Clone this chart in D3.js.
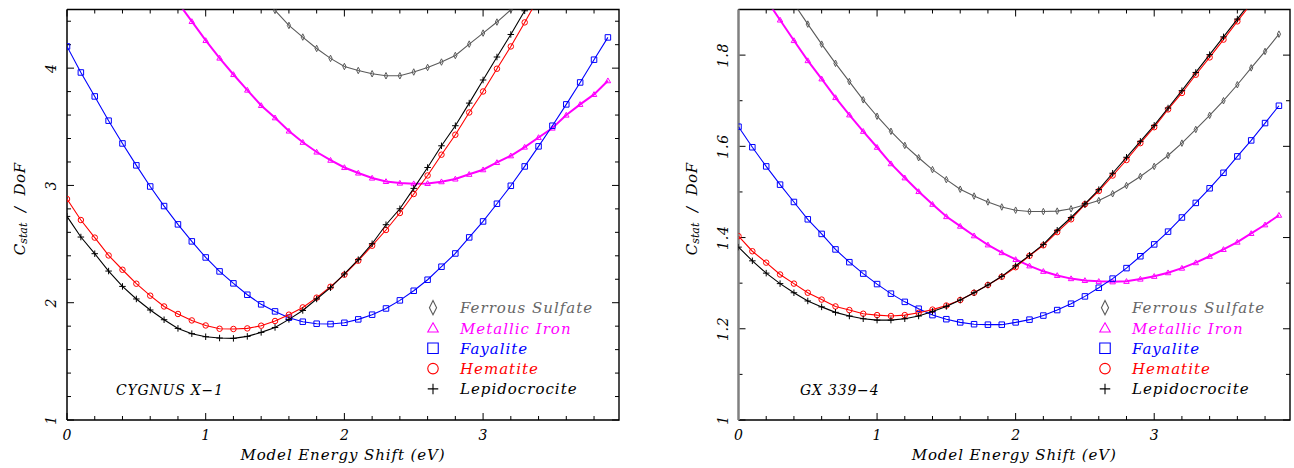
<!DOCTYPE html>
<html>
<head>
<meta charset="utf-8">
<script src="https://cdn.jsdelivr.net/npm/d3@7"></script>
<style>
  body { margin: 0; background: #fff; }
  svg text { font-family: "DejaVu Serif", "Liberation Serif", serif; font-style: italic; white-space: pre; }
</style>
</head>
<body>
<svg id="chart" width="1294" height="468"></svg>
<script>
// model energy shift grid (eV)
const energy = [0, 0.1, 0.2, 0.3, 0.4, 0.5, 0.6, 0.7, 0.8, 0.9,
  1.0, 1.1, 1.2, 1.3, 1.4, 1.5, 1.6, 1.7, 1.8, 1.9,
  2.0, 2.1, 2.2, 2.3, 2.4, 2.5, 2.6, 2.7, 2.8, 2.9,
  3.0, 3.1, 3.2, 3.3, 3.4, 3.5, 3.6, 3.7, 3.8, 3.9]

const seriesNames = ['Ferrous Sulfate', 'Metallic Iron', 'Fayalite', 'Hematite', 'Lepidocrocite']
const seriesColors = ['#5a5a5a', '#ff00ff', '#0000ff', '#ff0000', '#000000']
const seriesSymbols = ['diamond', 'triangle', 'square', 'circle', 'plus']

// Cygnus X-1 (null = outside the plotted range)
const cygFerrous = [null, null, null, null, null, null, null, null, null, null,
  null, null, null, null, 4.62, 4.492, 4.364, 4.265, 4.168, 4.083,
  4.014, 3.980, 3.952, 3.935, 3.935, 3.967, 4.006, 4.052, 4.108, 4.205,
  4.299, 4.393, 4.498, 4.61, null, null, null, null, null, null]
const cygIron = [null, null, null, null, null, null, null, null, 4.56, 4.398,
  4.236, 4.086, 3.946, 3.813, 3.682, 3.577, 3.464, 3.368, 3.285, 3.215,
  3.153, 3.106, 3.063, 3.034, 3.020, 3.015, 3.017, 3.032, 3.055, 3.095,
  3.134, 3.196, 3.253, 3.327, 3.409, 3.489, 3.600, 3.691, 3.776, 3.893]
const cygFayalite = [4.185, 3.963, 3.759, 3.552, 3.358, 3.171, 2.991, 2.824, 2.668, 2.523,
  2.386, 2.267, 2.165, 2.068, 1.986, 1.926, 1.872, 1.838, 1.821, 1.818,
  1.829, 1.858, 1.898, 1.951, 2.020, 2.102, 2.196, 2.307, 2.420, 2.557,
  2.693, 2.844, 2.997, 3.162, 3.333, 3.509, 3.691, 3.878, 4.072, 4.262]
const cygHematite = [2.884, 2.705, 2.555, 2.403, 2.281, 2.162, 2.060, 1.968, 1.904, 1.849,
  1.806, 1.778, 1.776, 1.781, 1.804, 1.844, 1.898, 1.960, 2.043, 2.136,
  2.239, 2.358, 2.486, 2.620, 2.765, 2.927, 3.085, 3.262, 3.432, 3.622,
  3.801, 3.995, 4.185, 4.390, 4.60, null, null, null, null, null]
const cygLepido = [2.736, 2.560, 2.418, 2.270, 2.139, 2.032, 1.938, 1.855, 1.781, 1.736,
  1.710, 1.699, 1.696, 1.713, 1.747, 1.789, 1.858, 1.934, 2.032, 2.128,
  2.245, 2.367, 2.503, 2.665, 2.801, 2.975, 3.153, 3.338, 3.509, 3.702,
  3.899, 4.095, 4.287, 4.489, 4.69, null, null, null, null, null]

// GX 339-4
const gxFerrous = [null, null, null, null, 1.913, 1.868, 1.824, 1.782, 1.742, 1.702,
  1.666, 1.633, 1.602, 1.575, 1.549, 1.527, 1.506, 1.491, 1.478, 1.467,
  1.460, 1.457, 1.457, 1.458, 1.463, 1.472, 1.481, 1.496, 1.514, 1.534,
  1.556, 1.580, 1.607, 1.637, 1.668, 1.700, 1.735, 1.772, 1.808, 1.846]
const gxIron = [null, null, 1.922, 1.877, 1.832, 1.788, 1.748, 1.707, 1.669, 1.633,
  1.598, 1.562, 1.531, 1.501, 1.473, 1.446, 1.425, 1.404, 1.384, 1.367,
  1.352, 1.338, 1.326, 1.317, 1.310, 1.306, 1.304, 1.303, 1.304, 1.309,
  1.315, 1.323, 1.333, 1.345, 1.359, 1.374, 1.390, 1.409, 1.428, 1.449]
const gxFayalite = [1.643, 1.598, 1.556, 1.516, 1.478, 1.440, 1.408, 1.374, 1.346, 1.321,
  1.298, 1.277, 1.259, 1.244, 1.230, 1.221, 1.214, 1.210, 1.209, 1.209,
  1.214, 1.220, 1.229, 1.241, 1.255, 1.271, 1.290, 1.310, 1.333, 1.359,
  1.385, 1.413, 1.444, 1.476, 1.508, 1.542, 1.578, 1.613, 1.651, 1.689]
const gxHematite = [1.403, 1.370, 1.345, 1.319, 1.299, 1.279, 1.264, 1.249, 1.241, 1.233,
  1.230, 1.228, 1.230, 1.235, 1.242, 1.251, 1.263, 1.279, 1.296, 1.314,
  1.335, 1.360, 1.383, 1.412, 1.440, 1.473, 1.502, 1.536, 1.570, 1.607,
  1.642, 1.681, 1.717, 1.757, 1.795, 1.834, 1.874, 1.913, null, null]
const gxLepido = [1.379, 1.349, 1.322, 1.299, 1.279, 1.261, 1.248, 1.236, 1.228, 1.222,
  1.219, 1.219, 1.222, 1.228, 1.238, 1.249, 1.263, 1.279, 1.296, 1.315,
  1.338, 1.361, 1.385, 1.416, 1.444, 1.474, 1.505, 1.541, 1.576, 1.611,
  1.646, 1.684, 1.722, 1.762, 1.801, 1.840, 1.879, 1.918, null, null]

const xTickLabels = [0, 1, 2, 3]
const cygYTickLabels = [1, 2, 3, 4]
const gxYTickLabels = ['1', '1.2', '1.4', '1.6', '1.8']

const panels = [
  {
    id: 'cyg', left: 67, right: 619, top: 9.5, bottom: 420,
    yDomain: [1, 4.5], yMinor: 0.2, yLabels: cygYTickLabels,
    values: [cygFerrous, cygIron, cygFayalite, cygHematite, cygLepido],
    name: 'CYGNUS X\u22121', nameX: 116, legendX: 433, leftAxisColor: '#000', leftAxisWidth: 1.5
  },
  {
    id: 'gx', left: 738.5, right: 1290, top: 9.5, bottom: 420,
    yDomain: [1, 1.9], yMinor: 0.1, yLabels: gxYTickLabels,
    values: [gxFerrous, gxIron, gxFayalite, gxHematite, gxLepido],
    name: 'GX 339\u22124', nameX: 800, legendX: 1105, leftAxisColor: '#808080', leftAxisWidth: 2.5
  }
]

// little path generator for the PGPLOT-like open markers
function marker(type, s) {
  const h = s / 2
  if (type == 'diamond') return `M0,${-h * 1.3}L${h * 0.65},0L0,${h * 1.3}L${-h * 0.65},0Z`
  if (type == 'triangle') return `M0,${-h}L${h},${h * 0.75}L${-h},${h * 0.75}Z`
  if (type == 'square') return `M${-h},${-h}H${h}V${h}H${-h}Z`
  if (type == 'plus') return `M${-h},0H${h}M0,${-h}V${h}`
  const p = d3.path()
  p.arc(0, 0, h, 0, 2 * Math.PI)
  return p.toString()
}

// marker size inside the plot
const plotSize = type => type == 'diamond' ? 5 : type == 'plus' ? 6.5 : 5.5

const svg = d3.select('#chart')

panels.forEach(panel => {
  const { left, right, top, bottom } = panel
  const x = d3.scaleLinear().domain([0, 3.98]).range([left, right])
  const y = d3.scaleLinear().domain(panel.yDomain).range([bottom, top])
  const g = svg.append('g')

  svg.append('clipPath').attr('id', 'clip-' + panel.id)
    .append('rect').attr('x', left).attr('y', top)
    .attr('width', right - left).attr('height', bottom - top)

  // ticks on all four sides, pointing inwards
  const xMinor = d3.range(0, 3.98, 0.2).map(v => +v.toFixed(2))
  const yMinor = d3.range(panel.yDomain[0], panel.yDomain[1] + 1e-6, panel.yMinor).map(v => +v.toFixed(2))
  const isMajorX = v => Math.abs(v - Math.round(v)) < 1e-6
  const isMajorY = v => panel.yLabels.some(l => Math.abs(+l - v) < 1e-6)

  const tickG = g.append('g').attr('stroke', '#000').attr('stroke-width', 1)
  xMinor.forEach(v => {
    const len = isMajorX(v) ? 7 : 4
    tickG.append('line').attr('x1', x(v)).attr('x2', x(v)).attr('y1', bottom).attr('y2', bottom - len)
    tickG.append('line').attr('x1', x(v)).attr('x2', x(v)).attr('y1', top).attr('y2', top + len)
  })
  yMinor.forEach(v => {
    const len = isMajorY(v) ? 7 : 4
    tickG.append('line').attr('y1', y(v)).attr('y2', y(v)).attr('x1', left).attr('x2', left + len)
    tickG.append('line').attr('y1', y(v)).attr('y2', y(v)).attr('x1', right).attr('x2', right - len)
  })

  // frame
  g.append('path')
    .attr('d', `M${left},${bottom}H${right}V${top}H${left}`)
    .attr('fill', 'none').attr('stroke', '#000').attr('stroke-width', 1.4)
  g.append('line')
    .attr('x1', left).attr('x2', left).attr('y1', top).attr('y2', bottom)
    .attr('stroke', panel.leftAxisColor).attr('stroke-width', panel.leftAxisWidth)

  // tick labels
  g.selectAll('.xlab').data(xTickLabels).join('text')
    .attr('class', 'xlab')
    .attr('x', d => x(d)).attr('y', 440)
    .attr('text-anchor', 'middle').attr('font-size', 14)
    .text(d => d)
  g.selectAll('.ylab').data(panel.yLabels).join('text')
    .attr('class', 'ylab')
    .attr('transform', d => `translate(${left - 11},${y(+d)}) rotate(-90)`)
    .attr('text-anchor', 'middle').attr('font-size', 14).attr('letter-spacing', 0.8)
    .text(d => d)

  // axis titles
  g.append('text')
    .attr('x', (left + right) / 2).attr('y', 459.5)
    .attr('text-anchor', 'middle').attr('font-size', 15)
    .attr('letter-spacing', 0.9)
    .text('Model Energy Shift (eV)')
  const yt = g.append('text')
    .attr('transform', `translate(${left - 42},${(top + bottom) / 2 - 6}) rotate(-90)`)
    .attr('text-anchor', 'middle').attr('font-size', 15)
  yt.append('tspan').text('C')
  yt.append('tspan').attr('font-size', 11).attr('dy', 2).text('stat')
  yt.append('tspan').attr('dy', -2).attr('letter-spacing', 0.6).text('  /  DoF')

  // curves
  const line = d3.line()
    .defined(d => d[1] != null)
    .x(d => x(d[0])).y(d => y(d[1]))

  const curveG = g.append('g').attr('clip-path', `url(#clip-${panel.id})`)
  panel.values.forEach((vals, i) => {
    const pts = energy.map((e, j) => [e, vals[j]])
    curveG.append('path')
      .datum(pts)
      .attr('d', line)
      .attr('fill', 'none')
      .attr('stroke', seriesColors[i])
      .attr('stroke-width', i == 1 ? 2 : 1.1)
    curveG.selectAll('.m' + i)
      .data(pts.filter(d => d[1] != null && d[1] <= panel.yDomain[1]))
      .join('path')
      .attr('class', 'm' + i)
      .attr('transform', d => `translate(${x(d[0])},${y(d[1])})`)
      .attr('d', marker(seriesSymbols[i], plotSize(seriesSymbols[i])))
      .attr('fill', 'none')
      .attr('stroke', seriesColors[i])
      .attr('stroke-width', 1)
  })

  // source name
  g.append('text')
    .attr('x', panel.nameX).attr('y', 395)
    .attr('font-size', 14).attr('letter-spacing', 0.8)
    .text(panel.name)

  // legend
  const legend = g.append('g')
  seriesNames.forEach((name, i) => {
    const cy = 307.7 + i * 20.3
    legend.append('path')
      .attr('transform', `translate(${panel.legendX},${cy})`)
      .attr('d', marker(seriesSymbols[i], seriesSymbols[i] == 'diamond' ? 11 : 10.5))
      .attr('fill', 'none')
      .attr('stroke', seriesColors[i])
      .attr('stroke-width', 1.1)
    legend.append('text')
      .attr('x', panel.legendX + 27).attr('y', cy + 5.5)
      .attr('font-size', 15).attr('letter-spacing', 1)
      .attr('fill', seriesColors[i] == '#5a5a5a' ? '#666' : seriesColors[i])
      .text(name)
  })
})
</script>
</body>
</html>
